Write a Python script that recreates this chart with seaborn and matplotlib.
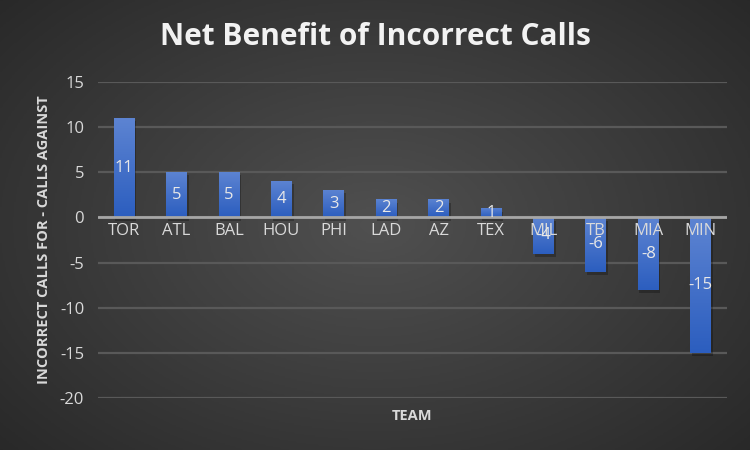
import matplotlib.pyplot as plt
import seaborn as sns
import numpy as np
import pandas as pd

teams = ["TOR", "ATL", "BAL", "HOU", "PHI", "LAD", "AZ", "TEX", "MIL", "TB", "MIA", "MIN"]
net_benefit = [11, 5, 5, 4, 3, 2, 2, 1, -4, -6, -8, -15]
y_ticks = [15, 10, 5, 0, -5, -10, -15, -20]

df = pd.DataFrame({"team": teams, "net": net_benefit})

sns.set_style("dark")
plt.rcParams['font.family'] = ['Open Sans', 'DejaVu Sans']

fig = plt.figure(figsize=(7.5, 4.5), dpi=100)

# radial grey background
bg = fig.add_axes([0, 0, 1, 1], zorder=-10)
yy, xx = np.mgrid[-1:1:300j, -1:1:500j]
r = np.sqrt(xx**2 + (yy * 0.9)**2)
bg.imshow(r, cmap=sns.blend_palette(["#505050", "#262626"], as_cmap=True),
          vmin=0, vmax=1.45, aspect='auto', extent=[0, 1, 0, 1])
bg.axis('off')

ax = fig.add_axes([0.1307, 0.1156, 0.8386, 0.7022])
ax.set_facecolor('none')

sns.barplot(data=df, x="team", y="net", color="#4472C4", width=0.4,
            saturation=1, linewidth=0, ax=ax, zorder=3)

# gradient fill on the bars
grad = np.linspace(0, 1, 100).reshape(-1, 1)
bar_cmap = sns.blend_palette(["#2c5ebf", "#5d84d2"], as_cmap=True)
for p in ax.patches:
    x0, y0 = p.get_x(), p.get_y()
    w, h = p.get_width(), p.get_height()
    lo, hi = min(y0, y0 + h), max(y0, y0 + h)
    p.set_edgecolor('none')
    p.set_linewidth(0)
    # shadow
    ax.add_patch(plt.Rectangle((x0 + 0.03, lo - 0.35), w, hi - lo, color='black',
                               alpha=0.25, zorder=2, linewidth=0))
    im = ax.imshow(grad, cmap=bar_cmap, extent=[x0, x0 + w, lo, hi],
                   aspect='auto', origin='lower', zorder=3.5)
    im.set_clip_path(p)

ax.set_xlim(-0.5, len(teams) - 0.5)
ax.set_ylim(-20, 15)
ax.set_yticks(y_ticks)
ax.set_yticklabels([str(t) for t in y_ticks], color="#d9d9d9", fontsize=12)

ax.grid(axis='y', color="#595959", linewidth=1.6, zorder=0)
ax.grid(axis='x', visible=False)
ax.axhline(0, color="#a6a6a6", linewidth=2, zorder=4)
for s in ax.spines.values():
    s.set_visible(False)
ax.tick_params(axis='y', length=0, pad=10)
ax.tick_params(axis='x', length=0)
ax.set_xticks([])

# value labels in the middle of bars
for i, v in enumerate(net_benefit):
    ax.text(i, v / 2, str(v), ha='center', va='center', color="#e8e8e8",
            fontsize=12, zorder=6)

# category labels just below the zero line
for i, t in enumerate(teams):
    ax.text(i, -0.6, t, ha='center', va='top', color="#d9d9d9",
            fontsize=12, zorder=5)

ax.set_xlabel("TEAM", color="#d9d9d9", fontsize=10.5, fontweight='bold', labelpad=8)
ax.set_ylabel("INCORRECT CALLS FOR - CALLS AGAINST", color="#d9d9d9",
              fontsize=10.5, fontweight='bold', labelpad=6)

fig.text(0.5, 0.918, "Net Benefit of Incorrect Calls", ha='center', va='center',
         color="#f2f2f2", fontsize=21.5, fontweight='bold')

fig.savefig("out.png", dpi=100, facecolor="#333333")
